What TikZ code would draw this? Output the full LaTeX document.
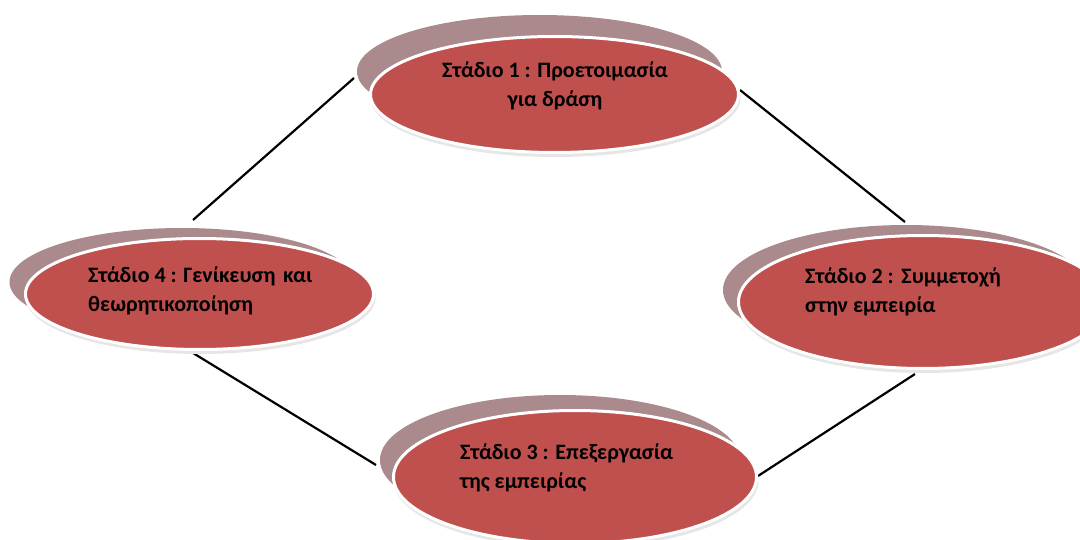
\documentclass[tikz,border=0pt]{standalone}
\usepackage{fontspec}
\setmainfont{Carlito}
\usetikzlibrary{shapes.geometric}
\definecolor{stagered}{HTML}{C0504D}
\definecolor{stageshadow}{HTML}{AA8A8C}
\definecolor{haze}{HTML}{E6E6E6}
\tikzset{
  backdisc/.style={ellipse, fill=stageshadow, draw=none, inner sep=0pt},
  hazedisc/.style={ellipse, fill=haze, draw=none, inner sep=0pt},
  stagedisc/.style={ellipse, fill=stagered, draw=white, line width=3pt, inner sep=0pt},
  stagetext/.style={font=\bfseries\fontsize{22}{29}\selectfont, text=black, inner sep=0pt},
  link/.style={draw=black, line width=2.2pt}
}
\begin{document}
\begin{tikzpicture}[x=1pt,y=-1pt]
\useasboundingbox (0,0) rectangle (1080,540);
\clip (0,0) rectangle (1080,540);
\fill[white] (0,0) rectangle (1080,540);

% connectors
\coordinate (c41) at (193,220);
\coordinate (c14) at (354,78);
\coordinate (c12) at (740,90);
\coordinate (c21) at (905,222);
\coordinate (c43) at (193,353);
\coordinate (c34) at (376,465);
\coordinate (c32) at (758,476);
\coordinate (c23) at (915,374);
\draw[link] (c41) -- (c14);
\draw[link] (c12) -- (c21);
\draw[link] (c43) -- (c34);
\draw[link] (c32) -- (c23);

% stage 1
\node[backdisc, minimum width=365pt, minimum height=113pt] (s1) at (539.5,71.5) {};
\node[hazedisc, minimum width=370pt, minimum height=118pt] (h1) at (555.5,98) {};
\node[stagedisc, minimum width=368pt, minimum height=116pt] (e1) at (554.5,94.5) {};
% stage 4
\node[backdisc, minimum width=345pt, minimum height=108pt] (s4) at (182,282) {};
\node[hazedisc, minimum width=350pt, minimum height=113pt] (h4) at (200.5,297.5) {};
\node[stagedisc, minimum width=348pt, minimum height=111pt] (e4) at (199.5,294) {};
% stage 2
\node[backdisc, minimum width=366pt, minimum height=130pt] (s2) at (906,290) {};
\node[hazedisc, minimum width=371pt, minimum height=135pt] (h2) at (924,305.5) {};
\node[stagedisc, minimum width=369pt, minimum height=133pt] (e2) at (923,302) {};
% stage 3
\node[backdisc, minimum width=360pt, minimum height=130pt] (s3) at (560,460) {};
\node[hazedisc, minimum width=365pt, minimum height=135pt] (h3) at (576,480.5) {};
\node[stagedisc, minimum width=363pt, minimum height=133pt] (e3) at (575,477) {};

% texts (base anchor = baseline of the last line)
\node[stagetext, align=center, anchor=base] (t1) at (555,107) {Στάδιο 1 : Προετοιμασία\\για δράση};
\node[stagetext, align=left, anchor=base west] (t4) at (88,312) {Στάδιο 4 : Γενίκευση\hspace{0.35em}και\\θεωρητικοποίηση};
\node[stagetext, align=left, anchor=base west] (t2) at (805,313) {Στάδιο 2 :\hspace{0.35em}Συμμετοχή\\στην εμπειρία};
\node[stagetext, align=left, anchor=base west] (t3) at (460,488) {Στάδιο 3 : Επεξεργασία\\της εμπειρίας};
\end{tikzpicture}
\end{document}
